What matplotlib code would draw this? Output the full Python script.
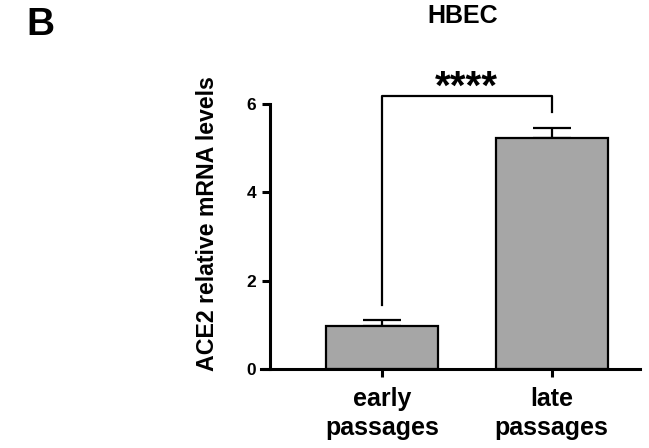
import matplotlib.pyplot as plt

plt.rcParams['font.family'] = ['Liberation Sans', 'DejaVu Sans']
plt.rcParams['font.weight'] = 'bold'

groups = ["early\npassages", "late\npassages"]
means = [0.97, 5.23]
sem = [0.14, 0.22]
yticks = [0, 2, 4, 6]

fig = plt.figure(figsize=(6.49, 4.48), dpi=100)
ax = fig.add_axes([0.416, 0.176, 0.570, 0.592])

x = [0, 1]
ax.bar(x, means, width=0.66, color="#a6a6a6", edgecolor="black", linewidth=1.6, zorder=2)
# upper error bars only
ax.errorbar(x, means, yerr=[[0, 0], sem], fmt="none", ecolor="black",
            elinewidth=1.6, capsize=14, capthick=1.6, zorder=1)

ax.set_xlim(-0.66, 1.52)
ax.set_ylim(0, 6)
ax.set_yticks(yticks)
ax.set_xticks(x)
ax.set_xticklabels(groups, fontsize=18, fontweight="bold", linespacing=1.25)
ax.tick_params(axis="y", labelsize=12.5, width=2.2, length=6, pad=4)
ax.tick_params(axis="x", width=2.2, length=6, pad=7)
for s in ["top", "right"]:
    ax.spines[s].set_visible(False)
for s in ["left", "bottom"]:
    ax.spines[s].set_linewidth(2.2)
ax.spines["bottom"].set_bounds(-0.71, 1.52)
ax.set_ylabel("ACE2 relative mRNA levels", fontsize=16.7, fontweight="bold", va="center")
ax.yaxis.set_label_coords(-0.168, 0.55)

# significance bracket
ax.plot([0, 0, 1, 1], [1.45, 6.18, 6.18, 5.81], color="black", lw=1.6, clip_on=False)
ax.text(0.5, 6.37, "****", ha="center", va="center", fontsize=29, fontweight="bold")

fig.text(0.713, 0.99, "HBEC", ha="center", va="top", fontsize=18, fontweight="bold")
fig.text(0.04, 0.985, "B", ha="left", va="top", fontsize=28, fontweight="bold")

fig.savefig("out.png", dpi=100)
